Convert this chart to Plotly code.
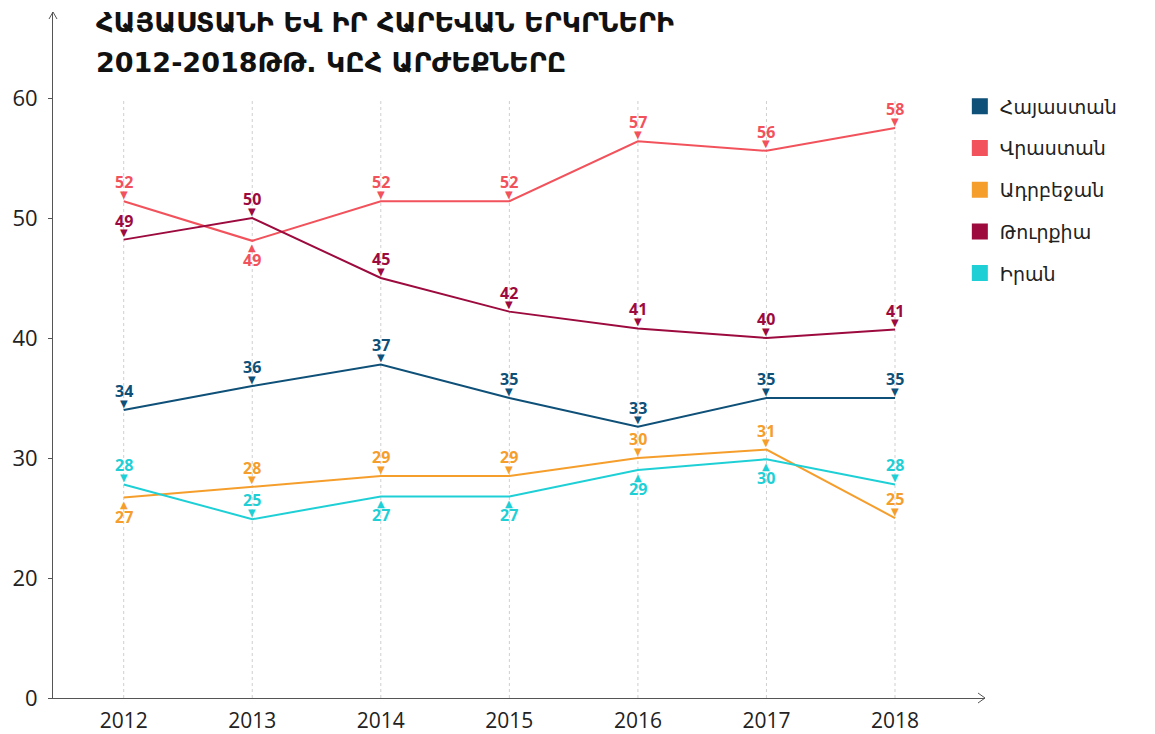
import plotly.graph_objects as go

years = [2012, 2013, 2014, 2015, 2016, 2017, 2018]

armenia = [34.0, 36.0, 37.8, 35.0, 32.6, 35.0, 35.0]
georgia = [51.4, 48.1, 51.4, 51.4, 56.4, 55.6, 57.5]
azerbaijan = [26.7, 27.6, 28.5, 28.5, 30.0, 30.7, 25.0]
turkey = [48.2, 50.0, 45.0, 42.2, 40.8, 40.0, 40.7]
iran = [27.8, 24.9, 26.8, 26.8, 29.0, 29.9, 27.8]

armenia_lbl = ["34", "36", "37", "35", "33", "35", "35"]
georgia_lbl = ["52", "49", "52", "52", "57", "56", "58"]
azerbaijan_lbl = ["27", "28", "29", "29", "30", "31", "25"]
turkey_lbl = ["49", "50", "45", "42", "41", "40", "41"]
iran_lbl = ["28", "25", "27", "27", "29", "30", "28"]

# 1 = label above the point, -1 = label below
armenia_pos = [1, 1, 1, 1, 1, 1, 1]
georgia_pos = [1, -1, 1, 1, 1, 1, 1]
azerbaijan_pos = [-1, 1, 1, 1, 1, 1, 1]
turkey_pos = [1, 1, 1, 1, 1, 1, 1]
iran_pos = [1, 1, -1, -1, -1, -1, 1]

names = ["Հայաստան", "Վրաստան", "Ադրբեջան", "Թուրքիա", "Իրան"]
colors = ["#0e5078", "#f2525b", "#f59e2c", "#9c0a3e", "#1ed0d6"]

ytick_vals = [10, 20, 30, 40, 50, 60]
ytick_text = ["0", "20", "30", "40", "50", "60"]

title_line1 = "ՀԱՅԱՍՏԱՆԻ ԵՎ ԻՐ ՀԱՐԵՎԱՆ ԵՐԿՐՆԵՐԻ"
title_line2 = "2012-2018ԹԹ. ԿԸՀ ԱՐԺԵՔՆԵՐԸ"

series = [
    (armenia, armenia_lbl, armenia_pos),
    (georgia, georgia_lbl, georgia_pos),
    (azerbaijan, azerbaijan_lbl, azerbaijan_pos),
    (turkey, turkey_lbl, turkey_pos),
    (iran, iran_lbl, iran_pos),
]

fig = go.Figure()

# vertical dashed guides
shapes = []
for yr in years:
    shapes.append(dict(type="line", xref="x", yref="y", x0=yr, x1=yr, y0=10, y1=60,
                       line=dict(color="#cfcfcf", width=1, dash="dot"), layer="below"))

# axis arrows
shapes.append(dict(type="path", xref="paper", yref="paper", xsizemode="pixel", ysizemode="pixel",
                   xanchor=1, yanchor=0, path="M -7 5 L 0 0 L -7 -5",
                   line=dict(color="#555555", width=1)))
shapes.append(dict(type="path", xref="paper", yref="paper", xsizemode="pixel", ysizemode="pixel",
                   xanchor=0, yanchor=1, path="M -4 -7 L 0 0 L 4 -7",
                   line=dict(color="#555555", width=1)))

annotations = []
for (vals, lbls, pos), name, col in zip(series, names, colors):
    fig.add_trace(go.Scatter(x=years, y=vals, mode="lines", line=dict(color=col, width=2),
                             showlegend=False, hoverinfo="skip"))
    for x, v, t, p in zip(years, vals, lbls, pos):
        annotations.append(dict(x=x, y=v, xref="x", yref="y", text=t, showarrow=False,
                                yshift=19 * p, font=dict(family="Open Sans", size=16, color=col, weight="bold")))
        annotations.append(dict(x=x, y=v, xref="x", yref="y", text="▼" if p > 0 else "▲", showarrow=False,
                                yshift=7 * p, font=dict(family="DejaVu Sans", size=10, color=col)))
    fig.add_trace(go.Scatter(x=[None], y=[None], mode="markers", name=name,
                             marker=dict(symbol="square", size=16, color=col),
                             legendgroup=name))

annotations.append(dict(xref="paper", yref="paper", x=0.045, y=1 - 11 / 686, xanchor="left", yanchor="middle",
                        text=title_line1, showarrow=False, borderpad=0,
                        font=dict(family="DejaVu Sans", size=27, color="#111111", weight="bold")))
annotations.append(dict(xref="paper", yref="paper", x=0.045, y=1 - 50 / 686, xanchor="left", yanchor="middle",
                        text=title_line2, showarrow=False, borderpad=0,
                        font=dict(family="DejaVu Sans", size=27, color="#111111", weight="bold")))

fig.update_layout(
    width=1147, height=726,
    margin=dict(l=45, r=170, t=4, b=36),
    paper_bgcolor="white", plot_bgcolor="white",
    shapes=shapes, annotations=annotations,
    showlegend=True,
    legend=dict(x=0.973, y=0.89, xanchor="left", yanchor="top",
                font=dict(family="DejaVu Sans", size=19, color="#222222"),
                tracegroupgap=14, bgcolor="rgba(0,0,0,0)"),
    xaxis=dict(range=[2011.45, 2018.7], tickvals=years, ticktext=[str(y) for y in years],
               showgrid=False, zeroline=False, showline=True, linecolor="#555555", linewidth=1,
               ticks="", automargin=False, ticklabelstandoff=4,
               tickfont=dict(family="Open Sans", size=21, color="#222222")),
    yaxis=dict(range=[10, 67.17], tickvals=ytick_vals, ticktext=ytick_text,
               showgrid=False, zeroline=False, showline=True, linecolor="#555555", linewidth=1,
               ticks="outside", ticklen=4, tickcolor="#555555", automargin=False, ticklabelstandoff=6,
               tickfont=dict(family="Open Sans", size=22, color="#222222")),
)

fig.write_html("out.html")
